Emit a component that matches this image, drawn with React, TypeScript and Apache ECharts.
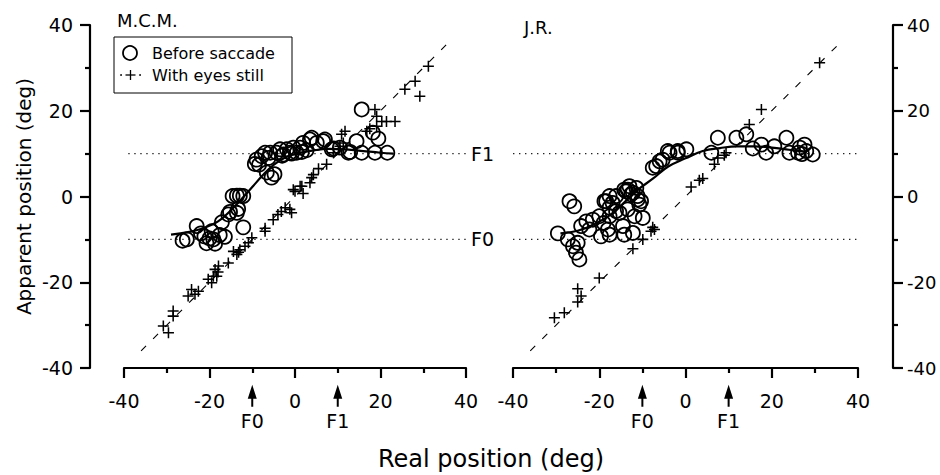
import React, { useEffect, useRef } from 'react';
import * as echarts from 'echarts';

// ---------- data ----------
const axisTicks = [-40, -20, 0, 20, 40];
const fixationNames = ['F0', 'F1'];
const fixationValues = [-10, 10];
const panelTitles = ['M.C.M.', 'J.R.'];
const seriesNames = ['Before saccade', 'With eyes still'];
const identityRange = [-36, 36];

// M.C.M. panel
const mcmBeforeSaccade: number[][] = [
  [-26.3, -10.3], [-25.3, -10.0], [-23.0, -6.9], [-22.0, -8.6], [-21.2, -9.3], [-20.7, -10.9],
  [-20.0, -9.8], [-19.5, -8.1], [-19.1, -10.0], [-18.7, -11.0], [-17.6, -9.0], [-17.1, -6.0],
  [-16.4, -9.4], [-15.6, -4.2], [-15.2, -3.6], [-13.6, -3.8], [-13.3, -2.9], [-12.1, -7.2],
  [-14.6, 0.1], [-13.6, 0.2], [-12.9, 0.2], [-12.1, 0.1], [-9.4, 7.6], [-9.0, 8.6], [-8.4, 7.4],
  [-7.8, 9.4], [-7.0, 10.2], [-6.6, 5.6], [-5.5, 4.4], [-4.8, 5.2], [-5.8, 10.2], [-6.2, 9.0],
  [-4.3, 10.2], [-3.5, 11.0], [-3.0, 9.5], [-2.7, 9.8], [-1.9, 11.0], [-1.2, 10.2], [-0.8, 10.0],
  [-0.4, 11.4], [0.4, 10.2], [1.2, 11.4], [1.6, 10.4], [1.9, 12.5], [2.7, 10.8], [3.5, 13.3],
  [3.9, 13.7], [5.1, 12.5], [6.6, 12.9], [7.0, 13.3], [8.6, 11.0], [9.0, 11.2], [10.5, 11.4],
  [12.5, 10.2], [12.9, 10.4], [14.4, 12.9], [15.6, 10.2], [15.6, 20.3], [18.2, 14.9],
  [19.5, 13.5], [18.7, 10.2], [21.6, 10.2]
];
const mcmEyesStill: number[][] = [
  [-30.8, -30.2], [-29.6, -31.8], [-28.5, -27.9], [-28.5, -26.7], [-25.0, -23.2], [-24.2, -21.7],
  [-23.4, -22.8], [-22.6, -22.1], [-20.3, -19.3], [-19.5, -20.1], [-19.1, -18.6], [-18.7, -17.0],
  [-17.9, -16.2], [-18.3, -18.6], [-18.0, -17.6], [-15.6, -15.5], [-14.4, -12.8], [-13.6, -13.5],
  [-13.2, -13.0], [-12.9, -12.4], [-11.7, -11.6], [-10.9, -10.8], [-10.1, -9.6], [-7.0, -8.1],
  [-7.0, -7.4], [-5.1, -5.4], [-4.0, -4.2], [-3.2, -3.5], [-2.3, -2.6], [-1.2, -3.0], [-0.8, -3.8],
  [-0.4, 1.6], [0.0, 1.2], [1.2, 2.4], [1.6, 2.4], [1.9, 0.7], [3.5, 3.2], [3.9, 4.4], [4.3, 5.1],
  [5.5, 6.5], [7.4, 7.5], [9.0, 10.2], [10.5, 11.7], [10.9, 14.5], [11.3, 12.5], [11.7, 15.2],
  [16.8, 15.2], [17.5, 15.8], [19.1, 16.4], [18.7, 20.3], [19.1, 18.7], [20.3, 17.5], [21.4, 17.5],
  [23.4, 17.5], [25.7, 25.0], [28.1, 26.9], [29.2, 23.4], [31.2, 30.4]
];
const mcmFit: number[][] = [
  [-29, -8.9], [-25, -8.3], [-22, -7.6], [-18, -5.8], [-15, -3.2], [-12.5, -0.6], [-10, 2.2],
  [-7.5, 5.0], [-5, 7.4], [-2.5, 9.0], [0, 9.9], [4, 10.7], [8, 11.1], [12, 11.0], [16, 10.6],
  [20, 10.2], [23, 10.0]
];

// J.R. panel
const jrBeforeSaccade: number[][] = [
  [-29.6, -8.6], [-27.3, -10.0], [-26.1, -11.6], [-25.4, -13.1], [-24.6, -14.7], [-25.0, -10.8],
  [-26.9, -1.1], [-25.8, -2.3], [-24.2, -6.9], [-23.0, -5.8], [-21.5, -5.4], [-22.3, -7.7],
  [-20.0, -4.6], [-19.6, -9.3], [-19.0, -6.2], [-18.0, -7.7], [-17.6, -8.9], [-17.6, -4.6],
  [-17.6, -2.6], [-16.9, -1.5], [-18.4, -1.1], [-18.8, -1.1], [-17.6, 0.1], [-16.1, -3.4],
  [-16.1, 0.1], [-15.3, -3.8], [-14.5, -6.9], [-14.2, -8.9], [-13.4, -3.0], [-12.2, -8.5],
  [-11.8, -4.6], [-9.9, -5.0], [-10.3, -1.1], [-10.7, -1.9], [-11.1, -0.7], [-13.4, 1.6],
  [-13.8, 1.2], [-11.4, 2.0], [-12.6, 0.5], [-12.2, 0.9], [-11.1, 0.1], [-14.2, 1.6], [-13.0, 2.4],
  [-7.6, 6.7], [-6.8, 7.1], [-6.0, 8.2], [-5.3, 8.6], [-4.1, 10.6], [-3.7, 10.2], [-1.8, 10.2],
  [-1.8, 10.6], [0.2, 11.0], [6.0, 10.2], [7.5, 13.7], [11.8, 13.7], [14.1, 14.5], [15.6, 11.2],
  [17.6, 12.1], [18.7, 10.2], [20.6, 11.7], [23.4, 13.7], [24.1, 10.2], [26.1, 10.2], [26.5, 11.4],
  [27.6, 12.1], [28.0, 10.6], [27.0, 9.9], [29.5, 9.8]
];
const jrEyesStill: number[][] = [
  [-30.4, -28.3], [-28.1, -27.1], [-25.0, -24.6], [-24.2, -23.2], [-25.0, -21.5], [-20.0, -19.0],
  [-12.2, -12.2], [-9.9, -10.0], [-8.0, -8.1], [-7.2, -7.7], [-7.6, -7.2], [1.3, 2.2], [3.2, 3.8],
  [4.0, 4.2], [6.7, 7.5], [7.5, 9.0], [9.0, 9.6], [9.4, 10.2], [14.8, 16.8], [17.6, 20.3],
  [31.1, 31.2]
];
const jrFit: number[][] = [
  [-29, -8.6], [-25, -8.0], [-21, -6.4], [-17, -4.0], [-14, -1.2], [-11, 1.6], [-7.5, 4.2],
  [-4, 7.0], [0, 8.9], [4, 10.6], [8, 11.3], [12, 11.7], [16, 11.7], [20, 11.4], [24, 10.9],
  [28, 10.4]
];

// ---------- style ----------
const FONT = 'DejaVu Sans';
const BLACK = '#000';
const PLUS = 'path://M4.3,0H5.7V4.3H10V5.7H5.7V10H4.3V5.7H0V4.3H4.3Z';
const ARROW = 'path://M4.5,0L9,14H5.5V22H3.5V14H0Z';

export default function App() {
  const ref = useRef<HTMLDivElement>(null);

  useEffect(() => {
    if (!ref.current) return;
    const chart = echarts.init(ref.current, null, { renderer: 'svg' });
    const yMin = axisTicks[0];
    const yMax = axisTicks[axisTicks.length - 1];
    const step = axisTicks[1] - axisTicks[0];
    const arrowY = yMin - 6.5;

    const xAxisBase = (gridIndex: number) => ({
      type: 'value', gridIndex, min: yMin, max: yMax, interval: step,
      axisLine: { show: true, onZero: false, lineStyle: { color: BLACK, width: 2.2 } },
      axisTick: { show: true, length: 10, lineStyle: { color: BLACK, width: 2.2 } },
      minorTick: { show: true, splitNumber: 2, length: 5, lineStyle: { color: BLACK, width: 2.2 } },
      splitLine: { show: false },
      axisLabel: { fontSize: 19, color: BLACK, fontFamily: FONT, margin: 23 },
    });
    const yAxisBase = (gridIndex: number, position: string, offset: number, margin: number, fontSize: number) => ({
      type: 'value', gridIndex, position, offset, min: yMin, max: yMax, interval: step,
      axisLine: { show: true, onZero: false, lineStyle: { color: BLACK, width: 2.2 } },
      axisTick: { show: true, length: 10, lineStyle: { color: BLACK, width: 2.2 } },
      minorTick: { show: true, splitNumber: 2, length: 5, lineStyle: { color: BLACK, width: 2.2 } },
      splitLine: { show: false },
      axisLabel: { fontSize, color: BLACK, fontFamily: FONT, margin, hideOverlap: false },
    });

    const panelSeries = (idx: number, circles: number[][], crosses: number[][], fit: number[][], withEndLabels: boolean) => {
      const refLines = fixationValues.map((v, i) => ({
        type: 'line', xAxisIndex: idx, yAxisIndex: idx, silent: true, symbol: 'none', z: 1,
        data: [[idx === 0 ? -39 : -40, v], [40, v]],
        lineStyle: { color: '#222', width: 1.4, type: [1.4, 4.6] },
        endLabel: withEndLabels ? { show: true, formatter: fixationNames[i], fontSize: 19, fontFamily: FONT, color: BLACK, distance: 5 } : { show: false },
      }));
      return [
        ...refLines,
        {
          type: 'line', xAxisIndex: idx, yAxisIndex: idx, silent: true, symbol: 'none', z: 1,
          data: [[identityRange[0], identityRange[0]], [identityRange[1], identityRange[1]]],
          lineStyle: { color: BLACK, width: 1.1, type: [7, 10] },
        },
        {
          type: 'line', xAxisIndex: idx, yAxisIndex: idx, silent: true, symbol: 'none', smooth: 0.4, z: 2,
          data: fit, lineStyle: { color: BLACK, width: 2.2 },
        },
        {
          name: seriesNames[0], type: 'scatter', xAxisIndex: idx, yAxisIndex: idx, z: 3,
          symbol: 'circle', symbolSize: 14, data: circles,
          itemStyle: { color: 'rgba(0,0,0,0)', borderColor: BLACK, borderWidth: 1.8, opacity: 1 },
        },
        {
          name: seriesNames[1], type: 'scatter', xAxisIndex: idx, yAxisIndex: idx, z: 3,
          symbol: PLUS, symbolSize: 11, data: crosses,
          itemStyle: { color: BLACK, opacity: 1 },
        },
        {
          type: 'scatter', xAxisIndex: idx, yAxisIndex: idx, clip: false, silent: true, z: 3,
          symbol: ARROW, symbolSize: [9, 22],
          data: fixationValues.map((v, i) => ({ value: [v, arrowY], name: fixationNames[i] })),
          itemStyle: { color: BLACK, opacity: 1 },
          label: { show: true, position: 'bottom', distance: 5, formatter: '{b}', fontSize: 19, fontFamily: FONT, color: BLACK },
        },
      ];
    };

    chart.setOption({
      animation: false,
      backgroundColor: '#fff',
      textStyle: { fontFamily: FONT },
      grid: [
        { left: 124, top: 25, width: 342, height: 343, containLabel: false, outerBoundsMode: 'none' },
        { left: 513, top: 25, width: 345, height: 343, containLabel: false, outerBoundsMode: 'none' },
      ],
      xAxis: [xAxisBase(0), xAxisBase(1)],
      yAxis: [
        {
          ...yAxisBase(0, 'left', 34, 17, 19),
          name: 'Apparent position (deg)', nameLocation: 'middle', nameGap: 56,
          nameTextStyle: { fontSize: 20, color: BLACK, fontFamily: FONT },
        },
        yAxisBase(1, 'right', 35, 14, 18),
      ],
      series: [
        ...panelSeries(0, mcmBeforeSaccade, mcmEyesStill, mcmFit, true),
        ...panelSeries(1, jrBeforeSaccade, jrEyesStill, jrFit, false),
      ],
      graphic: [
        { type: 'text', left: 117, top: 11, style: { text: panelTitles[0], fontSize: 18, fontFamily: FONT, fill: BLACK } },
        { type: 'text', left: 524, top: 18, style: { text: panelTitles[1], fontSize: 18, fontFamily: FONT, fill: BLACK } },
        { type: 'rect', shape: { x: 114, y: 37, width: 178, height: 56 }, style: { fill: '#fff', stroke: BLACK, lineWidth: 1 }, z: 10 },
        { type: 'circle', shape: { cx: 130, cy: 53, r: 7 }, style: { fill: 'none', stroke: BLACK, lineWidth: 1.8 }, z: 11 },
        { type: 'text', x: 152, y: 53, style: { text: seriesNames[0], fontSize: 16, fontFamily: FONT, fill: BLACK, verticalAlign: 'middle' }, z: 11 },
        { type: 'circle', shape: { cx: 121, cy: 75, r: 0.9 }, style: { fill: BLACK }, z: 11 },
        { type: 'circle', shape: { cx: 140, cy: 75, r: 0.9 }, style: { fill: BLACK }, z: 11 },
        { type: 'line', shape: { x1: 125.5, y1: 75, x2: 135.5, y2: 75 }, style: { stroke: BLACK, lineWidth: 1.3 }, z: 11 },
        { type: 'line', shape: { x1: 130.5, y1: 70, x2: 130.5, y2: 80 }, style: { stroke: BLACK, lineWidth: 1.3 }, z: 11 },
        { type: 'text', x: 152, y: 75, style: { text: seriesNames[1], fontSize: 16, fontFamily: FONT, fill: BLACK, verticalAlign: 'middle' }, z: 11 },
        { type: 'text', x: 491, y: 459, style: { text: 'Real position (deg)', fontSize: 24, fontFamily: FONT, fill: BLACK, align: 'center', verticalAlign: 'middle' } },
      ],
    });
    return () => chart.dispose();
  }, []);

  return <div ref={ref} style={{ width: 940, height: 475, position: 'absolute', left: 0, top: 0 }} />;
}
